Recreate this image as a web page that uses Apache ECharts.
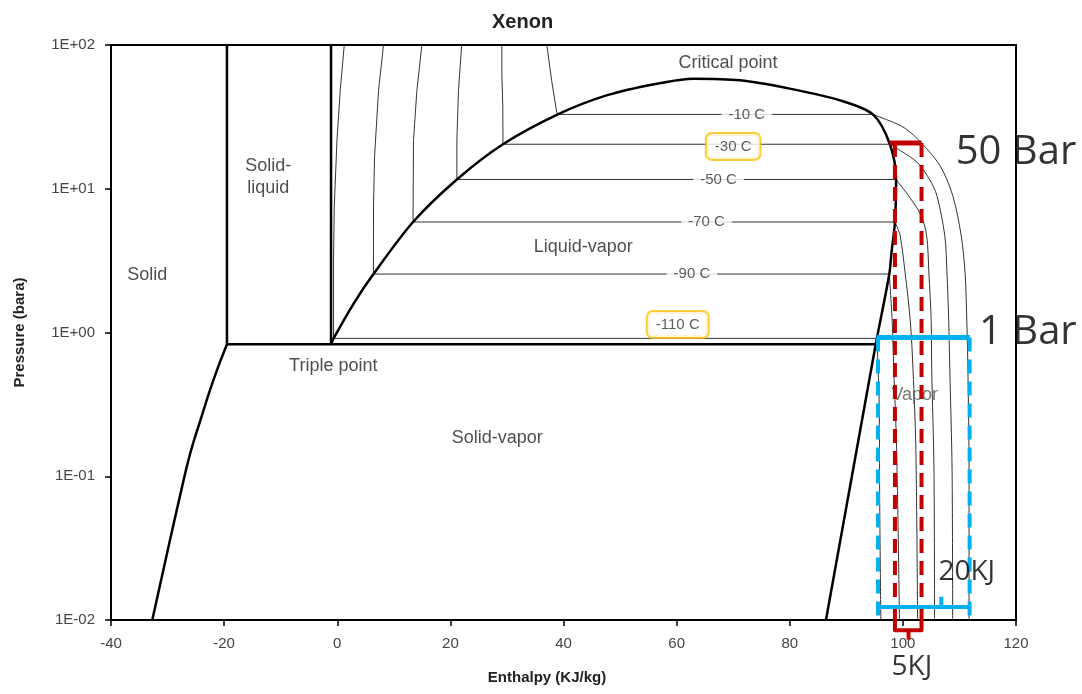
<!DOCTYPE html>
<html>
<head>
<meta charset="utf-8">
<title>Xenon</title>
<script src="https://cdn.jsdelivr.net/npm/echarts@6/dist/echarts.min.js"></script>
<style>
  html, body { margin: 0; padding: 0; background: #fff; }
  #chart { width: 1082px; height: 694px; }
</style>
</head>
<body>
<div id="chart"></div>
<script>
// enthalpy (kJ/kg) on x, pressure (bar) on a log y axis
const xMin = -40, xMax = 120, xStep = 20;
const yMin = 0.01, yMax = 100;

const tripleP = 0.829;
const solidMeltX = -19.5;
const liquidMeltX = -1.1;

const sublimSolid = [[-32.7, 0.01], [-30.1, 0.029], [-27.7, 0.076], [-26.0, 0.144], [-24.2, 0.245], [-21.9, 0.466], [-19.5, 0.829]];
const sublimVapor = [[95.2, 0.829], [86.4, 0.01]];
const satDome = [
  [-1.1, 0.829], [-0.65, 0.91], [2.9, 1.59], [6.4, 2.55], [13.4, 5.87], [21.15, 11.6],
  [29.3, 20.4], [39.0, 32.9], [47.6, 44.6], [56.5, 53.8], [63.0, 58.3], [71.2, 56.8], [80.0, 49.7],
  [88.9, 41.2], [94.7, 32.9], [97.7, 20.4], [98.8, 11.6], [98.6, 5.87], [98.0, 3.63], [97.6, 2.55],
  [95.4, 0.91], [95.2, 0.829]
];

// isotherms
const isoNames = ['-10 C', '-30 C', '-50 C', '-70 C', '-90 C', '-110 C'];
const isoP = [32.9, 20.4, 11.6, 5.87, 2.55, 0.91];
const isoLiquid = [
  [[37.05, 100], [37.9, 56.7], [38.8, 34.2], [39.0, 32.9]],
  [[29.1, 100], [29.1, 63.2], [29.27, 37.0], [29.3, 20.4]],
  [[22.0, 100], [21.43, 48.3], [21.15, 21.7], [21.15, 11.6]],
  [[14.96, 100], [14.08, 48.3], [13.48, 21.7], [13.4, 5.87]],
  [[8.18, 100], [7.3, 48.3], [6.59, 16.6], [6.41, 7.47], [6.4, 2.55]],
  [[1.24, 100], [0.53, 48.3], [-0.05, 21.7], [-0.53, 7.47], [-0.65, 3.35], [-0.65, 0.91]]
];
const isoVapor = [
  [[94.7, 32.9], [99.8, 27.2], [102.5, 22.4], [106.5, 14.6], [108.8, 9.0], [110.3, 4.75], [111.0, 2.59], [111.3, 1.22], [111.5, 0.547], [111.7, 0.11], [111.7, 0.01]],
  [[97.7, 20.4], [102.5, 15.3], [104.8, 11.45], [106.0, 9.0], [107.4, 4.75], [107.8, 2.59], [108.1, 1.22], [108.3, 0.547], [108.7, 0.11], [108.8, 0.01]],
  [[98.8, 11.6], [101.2, 8.72], [103.2, 6.54], [104.2, 4.75], [104.6, 2.59], [105.0, 1.22], [105.1, 0.547], [105.5, 0.11], [105.6, 0.01]],
  [[98.6, 5.87], [99.5, 4.75], [100.4, 2.59], [101.3, 1.22], [101.8, 0.547], [102.3, 0.152], [102.6, 0.01]],
  [[97.6, 2.55], [98.1, 1.22], [98.4, 0.547], [98.9, 0.152], [99.4, 0.01]],
  [[95.4, 0.91], [95.8, 0.338], [95.9, 0.068], [96.1, 0.01]]
];
const isoLabelX = [72.4, 70.0, 67.4, 65.3, 62.7, 60.2];
const isoLabelP = [32.9, 19.7, 11.6, 5.87, 2.55, 1.137];
const isoBoxed = [false, true, false, false, false, true];

// region names
const regionNames = ['Solid', 'Solid-\nliquid', 'Liquid-vapor', 'Critical point', 'Triple point', 'Solid-vapor', 'Vapor'];
const regionX = [-33.6, -12.2, 43.5, 69.1, -0.7, 28.3, 102.1];
const regionP = [2.5, 12.0, 3.92, 74.5, 0.583, 0.184, 0.366];

// hand-drawn annotations
const redTop = [[97.6, 20.8], [103.3, 20.8]];
const redDashL = [[98.6, 20.8], [98.6, 0.0105]];
const redDashR = [[103.3, 20.8], [103.3, 0.0105]];
const redBracket = [[98.6, 0.0105], [98.6, 0.0085], [103.3, 0.0085], [103.3, 0.0105]];
const redTick = [[101.0, 0.0085], [101.0, 0.0073]];
const blueTop = [[95.35, 0.923], [111.85, 0.923]];
const blueDashL = [[95.6, 0.923], [95.6, 0.0105]];
const blueDashR = [[111.8, 0.923], [111.8, 0.0105]];
const blueBottom = [[95.9, 0.0123], [111.8, 0.0123]];
const blueTick = [[106.8, 0.0123], [106.8, 0.0145]];
const noteNames = ['50 Bar', '1 Bar', '20KJ', '5KJ'];
const noteX = [120.0, 122.1, 111.3, 101.6];
const noteP = [17.9, 1.005, 0.0216, 0.0047];
const noteSize = [40, 40, 28, 28];

const RED = '#c00000', BLUE = '#00b0f0', ORANGE = '#ffc000';
const FONT = '"Liberation Sans", Arial, sans-serif';

function line(data, width, color, extra) {
  return Object.assign({
    type: 'line', data: data, showSymbol: false, symbol: 'none', silent: true,
    animation: false, z: 2,
    lineStyle: { width: width, color: color, cap: 'butt', join: 'round' }
  }, extra || {});
}

const series = [];
isoLiquid.forEach((d, i) => {
  series.push(line(d, 1, '#333'));
  series.push(line([d[d.length - 1], [isoVapor[i][0][0], isoP[i]]], 1, '#333'));
  series.push(line(isoVapor[i], 1, '#333', { smooth: 0.3 }));
});
series.push(line(sublimSolid, 2.5, '#000', { z: 3, smooth: 0.5 }));
series.push(line(sublimVapor, 2.5, '#000', { z: 3 }));
series.push(line(satDome, 2.5, '#000', { z: 3, smooth: 0.3 }));
series.push(line([[solidMeltX, tripleP], [solidMeltX, yMax]], 2.5, '#000', { z: 3 }));
series.push(line([[liquidMeltX, tripleP], [liquidMeltX, yMax]], 2.5, '#000', { z: 3 }));
series.push(line([[solidMeltX, tripleP], [sublimVapor[0][0], tripleP]], 2.5, '#000', { z: 3 }));

// isotherm labels
series.push({
  type: 'scatter', silent: true, animation: false, z: 5, symbolSize: 1,
  itemStyle: { color: 'rgba(0,0,0,0)' },
  data: isoNames.map((n, i) => ({
    name: n, value: [isoLabelX[i], isoLabelP[i]],
    label: isoBoxed[i]
      ? { borderColor: ORANGE, borderWidth: 2, borderRadius: 5, padding: [5, 8, 5, 8] }
      : { padding: [1, 7, 1, 7] }
  })),
  label: {
    show: true, position: 'inside', formatter: '{b}', color: '#333',
    fontFamily: FONT, fontSize: 15, backgroundColor: '#fff'
  }
});

// region labels
series.push({
  type: 'scatter', silent: true, animation: false, z: 5, symbolSize: 1,
  itemStyle: { color: 'rgba(0,0,0,0)' },
  data: regionNames.map((n, i) => ({
    name: n, value: [regionX[i], regionP[i]],
    label: n === 'Vapor' ? { color: '#555' } : {}
  })),
  label: {
    show: true, position: 'inside', formatter: '{b}', color: '#222',
    fontFamily: FONT, fontSize: 18, lineHeight: 22, align: 'center'
  }
});

// annotation overlay
const over = { z: 8, clip: false };
series.push(line(redDashL, 4, RED, Object.assign({ lineStyle: { width: 4, color: RED, type: [14, 8] } }, over)));
series.push(line(redDashR, 4, RED, Object.assign({ lineStyle: { width: 4, color: RED, type: [14, 8] } }, over)));
series.push(line(redTop, 5, RED, over));
series.push(line(redBracket, 4, RED, over));
series.push(line(redTick, 4, RED, over));
series.push(line(blueDashL, 4, BLUE, Object.assign({ lineStyle: { width: 4, color: BLUE, type: [14, 8] } }, over)));
series.push(line(blueDashR, 4, BLUE, Object.assign({ lineStyle: { width: 4, color: BLUE, type: [14, 8] } }, over)));
series.push(line(blueTop, 5, BLUE, over));
series.push(line(blueBottom, 4, BLUE, over));
series.push(line(blueTick, 4, BLUE, over));
series.push({
  type: 'scatter', silent: true, animation: false, z: 9, symbolSize: 1, clip: false,
  itemStyle: { color: 'rgba(0,0,0,0)' },
  data: noteNames.map((n, i) => ({ name: n, value: [noteX[i], noteP[i]], label: { fontSize: noteSize[i] } })),
  label: { show: true, position: 'inside', formatter: '{b}', color: '#000', fontFamily: '"Open Sans", sans-serif' }
});

const chart = echarts.init(document.getElementById('chart'));
chart.setOption({
  animation: false,
  backgroundColor: '#fff',
  title: {
    text: 'Xenon', left: 487, top: 7,
    textStyle: { fontFamily: FONT, fontSize: 20, fontWeight: 'bold', color: '#222' }
  },
  grid: { left: 111, right: 66, top: 45, bottom: 74, show: true, borderColor: '#000', borderWidth: 2 },
  xAxis: {
    type: 'value', min: xMin, max: xMax, interval: xStep,
    name: 'Enthalpy (KJ/kg)', nameLocation: 'middle', nameGap: 50,
    nameTextStyle: { fontFamily: FONT, fontSize: 15, fontWeight: 'bold', color: '#222', padding: [0, 33, 0, 0] },
    axisLine: { onZero: false, lineStyle: { color: '#000', width: 2 } },
    axisTick: { length: 6, lineStyle: { color: '#000', width: 1.5 } },
    axisLabel: { margin: 16, fontFamily: FONT, fontSize: 15, color: '#444' },
    splitLine: { show: false }
  },
  yAxis: {
    type: 'log', logBase: 10, min: yMin, max: yMax,
    name: 'Pressure (bara)', nameLocation: 'middle', nameGap: 84,
    nameTextStyle: { fontFamily: FONT, fontSize: 15, fontWeight: 'bold', color: '#222' },
    axisLine: { onZero: false, lineStyle: { color: '#000', width: 2 } },
    axisTick: { length: 6, lineStyle: { color: '#000', width: 1.5 } },
    axisLabel: {
      margin: 16, fontFamily: FONT, fontSize: 15, color: '#444',
      formatter: function (v) {
        const e = Math.round(Math.log10(v));
        return '1E' + (e < 0 ? '-' : '+') + String(Math.abs(e)).padStart(2, '0');
      }
    },
    splitLine: { show: false },
    minorTick: { show: false }
  },
  series: series
});
</script>
</body>
</html>
